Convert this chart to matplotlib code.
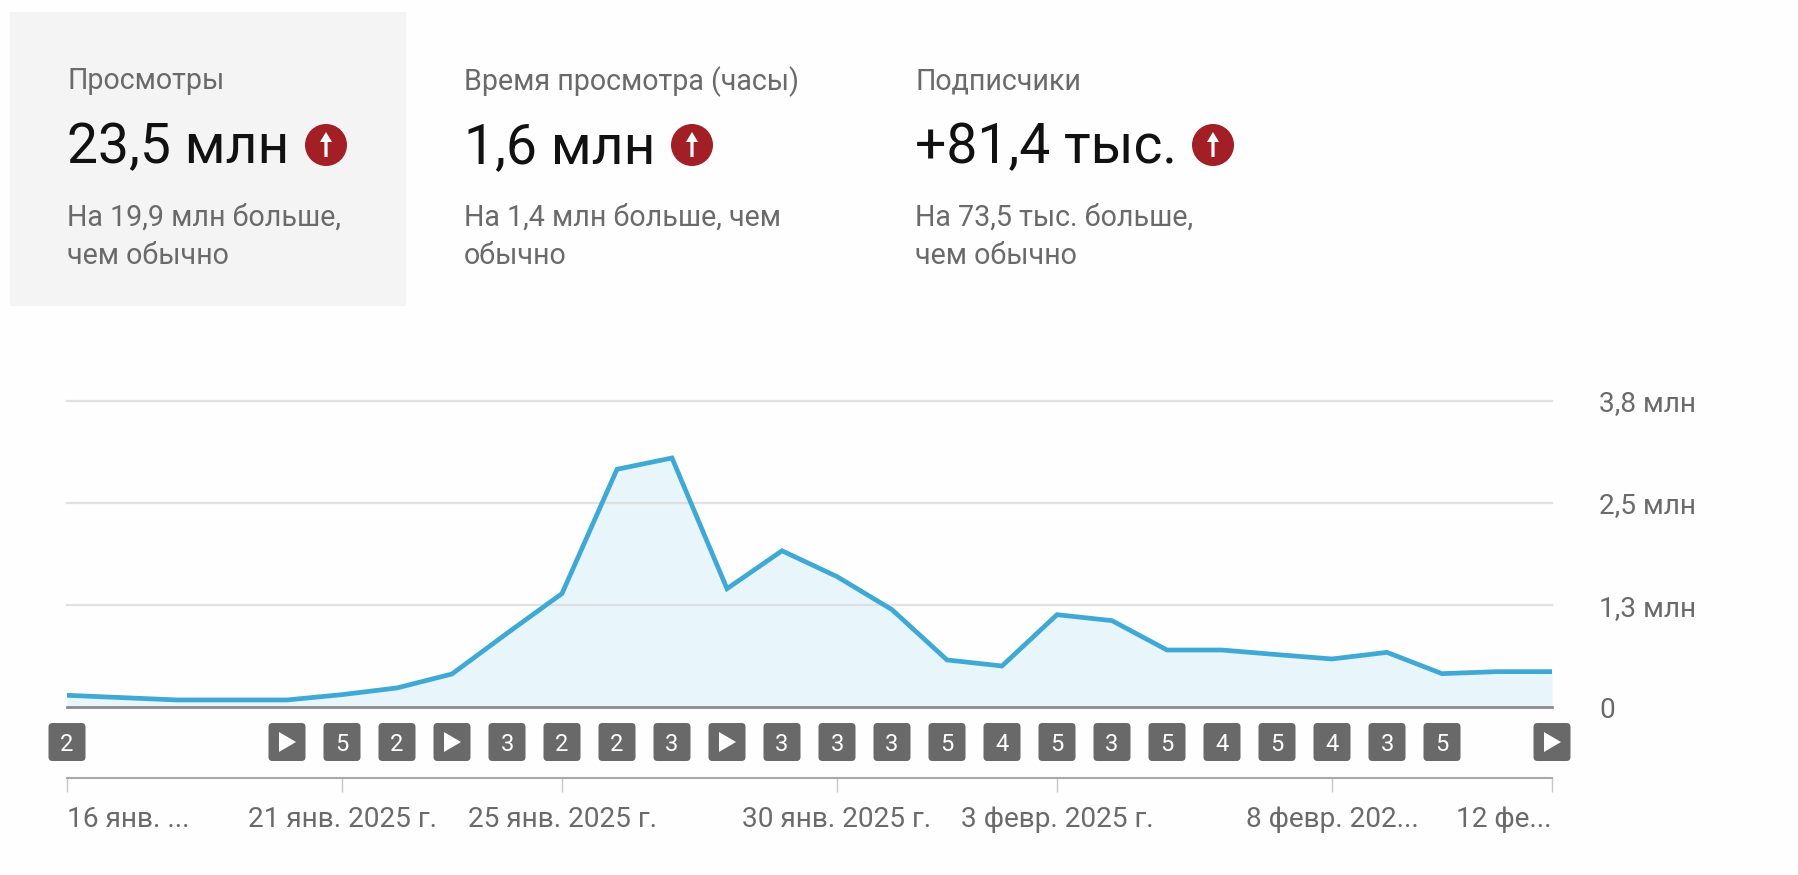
"""YouTube-style analytics card: summary tiles, daily views line, upload badges."""

import matplotlib
matplotlib.use("Agg")
import matplotlib.pyplot as plt
from matplotlib.patches import Circle, FancyBboxPatch, Polygon, Rectangle

W, H = 1798, 875

# ---------------------------------------------------------------------------
# Data
# ---------------------------------------------------------------------------
VIEWS = [
    0.149, 0.120, 0.091, 0.091, 0.091, 0.157, 0.240, 0.413, 0.917, 1.41,
    2.95, 3.09, 1.47, 1.94, 1.62, 1.21, 0.587, 0.512, 1.148, 1.074,
    0.71, 0.71, 0.653, 0.599, 0.681, 0.417, 0.442, 0.442,
]
DAYS = list(range(len(VIEWS)))

Y_TICKS = [0, 1.267, 2.533, 3.8]
Y_LABELS = ["0", "1,3 млн", "2,5 млн", "3,8 млн"]

X_TICKS = [0, 5, 9, 14, 18, 23, 27]
X_LABELS = [
    "16 янв. ...", "21 янв. 2025 г.", "25 янв. 2025 г.", "30 янв. 2025 г.",
    "3 февр. 2025 г.", "8 февр. 202...", "12 фе...",
]

# "" = no badge, ">" = play icon
BADGES = [
    "2", "", "", "", ">", "5", "2", ">", "3", "2", "2", "3", ">", "3",
    "3", "3", "5", "4", "5", "3", "5", "4", "5", "4", "3", "5", "", ">",
]

TILE_TITLES = ["Просмотры", "Время просмотра (часы)", "Подписчики"]
TILE_VALUES = ["23,5 млн", "1,6 млн", "+81,4 тыс."]
TILE_NOTES = [
    "На 19,9 млн больше,\nчем обычно",
    "На 1,4 млн больше, чем\nобычно",
    "На 73,5 тыс. больше,\nчем обычно",
]
TILE_X = [67, 464, 915]
TILE_ICON_X = [326, 692, 1213]

# ---------------------------------------------------------------------------
# Style
# ---------------------------------------------------------------------------
LINE_COLOR = "#3fa9d5"
FILL_COLOR = "#e8f5fb"
GRID_COLOR = "#dcdcdc"
AXIS_COLOR = "#8a8a8a"
TEXT_GREY = "#6a6a6a"
BADGE_COLOR = "#696969"
RED = "#a31f26"
FS_TILE = 20.6
FS_AXIS = 20.2
FS_VALUE = 39.8

plt.rcParams["font.family"] = ["Roboto", "DejaVu Sans"]

fig = plt.figure(figsize=(W / 100, H / 100), dpi=100, facecolor="#fefefe")

# overlay in pixel coordinates for the tiles and badges
px = fig.add_axes([0, 0, 1, 1], zorder=0)
px.set_xlim(0, W)
px.set_ylim(H, 0)
px.axis("off")

# ---------------------------------------------------------------------------
# Chart
# ---------------------------------------------------------------------------
x0, x1 = 67, 1552
y_base, y_top = 707.3, 400.7
ax = fig.add_axes([x0 / W, 1 - y_base / H, (x1 - x0) / W, (y_base - y_top) / H], zorder=1)
ax.patch.set_alpha(0)
ax.set_xlim(DAYS[0], DAYS[-1])
ax.set_ylim(0, Y_TICKS[-1])

ax.fill_between(DAYS, VIEWS, 0, color=FILL_COLOR, lw=0, zorder=1)
for v in Y_TICKS[1:]:
    ax.axhline(v, color=GRID_COLOR, lw=1.6, alpha=0.85, zorder=2, clip_on=False)
ax.axhline(0, color=AXIS_COLOR, lw=2, zorder=3, clip_on=False)
ax.plot(DAYS, VIEWS, color=LINE_COLOR, lw=3.4, solid_joinstyle="miter", zorder=4, clip_on=True)

for name in ("top", "left", "right"):
    ax.spines[name].set_visible(False)
ax.spines["bottom"].set_position(("outward", 51))
ax.spines["bottom"].set_color("#a8a8a8")
ax.spines["bottom"].set_linewidth(1.5)

ax.yaxis.tick_right()
ax.set_yticks(Y_TICKS, Y_LABELS)
ax.tick_params(axis="y", length=0, pad=34, labelsize=FS_AXIS, labelcolor=TEXT_GREY)
for label in ax.get_yticklabels():
    label.set_va("center_baseline")
ax.set_xticks(X_TICKS, X_LABELS)
ax.tick_params(axis="x", length=10, width=1, color="#c8c8c8", pad=10,
               labelsize=FS_AXIS, labelcolor=TEXT_GREY)
xlabels = ax.get_xticklabels()
xlabels[0].set_ha("left")
xlabels[-1].set_ha("right")

# ---------------------------------------------------------------------------
# Upload badges under the chart
# ---------------------------------------------------------------------------
fig.canvas.draw()
BW, BH = 37, 38
by = 723
for day, badge in zip(DAYS, BADGES):
    if not badge:
        continue
    cx = ax.transData.transform((day, 0))[0]
    px.add_patch(FancyBboxPatch((cx - BW / 2 + 3, by + 3), BW - 6, BH - 6,
                                boxstyle="round,pad=3,rounding_size=4",
                                fc=BADGE_COLOR, ec="none", clip_on=False))
    if badge == ">":
        px.add_patch(Polygon([(cx - 8, by + 9), (cx - 8, by + 29), (cx + 9, by + 19)], fc="white", ec="none"))
    else:
        px.text(cx, by + BH / 2, badge, color="white", fontsize=17, ha="center", va="center_baseline")

# ---------------------------------------------------------------------------
# Summary tiles
# ---------------------------------------------------------------------------
px.add_patch(Rectangle((10, 12), 396, 294, fc="#f4f4f4", ec="none", zorder=0))

for x, icon_x, title, value, note in zip(TILE_X, TILE_ICON_X, TILE_TITLES, TILE_VALUES, TILE_NOTES):
    px.text(x, 78, title, color=TEXT_GREY, fontsize=FS_TILE, va="center_baseline")
    px.text(x, 163, value, color="#111111", fontsize=FS_VALUE, va="baseline")
    px.text(x, 237, note, color=TEXT_GREY, fontsize=FS_TILE, va="center", linespacing=1.46)

    cy = 145
    px.add_patch(Circle((icon_x, cy), 21, fc=RED, ec="none"))
    px.add_patch(Polygon([(icon_x, cy - 13), (icon_x + 6, cy - 3), (icon_x + 1.6, cy - 3),
                          (icon_x + 1.6, cy + 12), (icon_x - 1.6, cy + 12),
                          (icon_x - 1.6, cy - 3), (icon_x - 6, cy - 3)], fc="white", ec="none"))

fig.savefig("out.png", dpi=100, facecolor=fig.get_facecolor())
